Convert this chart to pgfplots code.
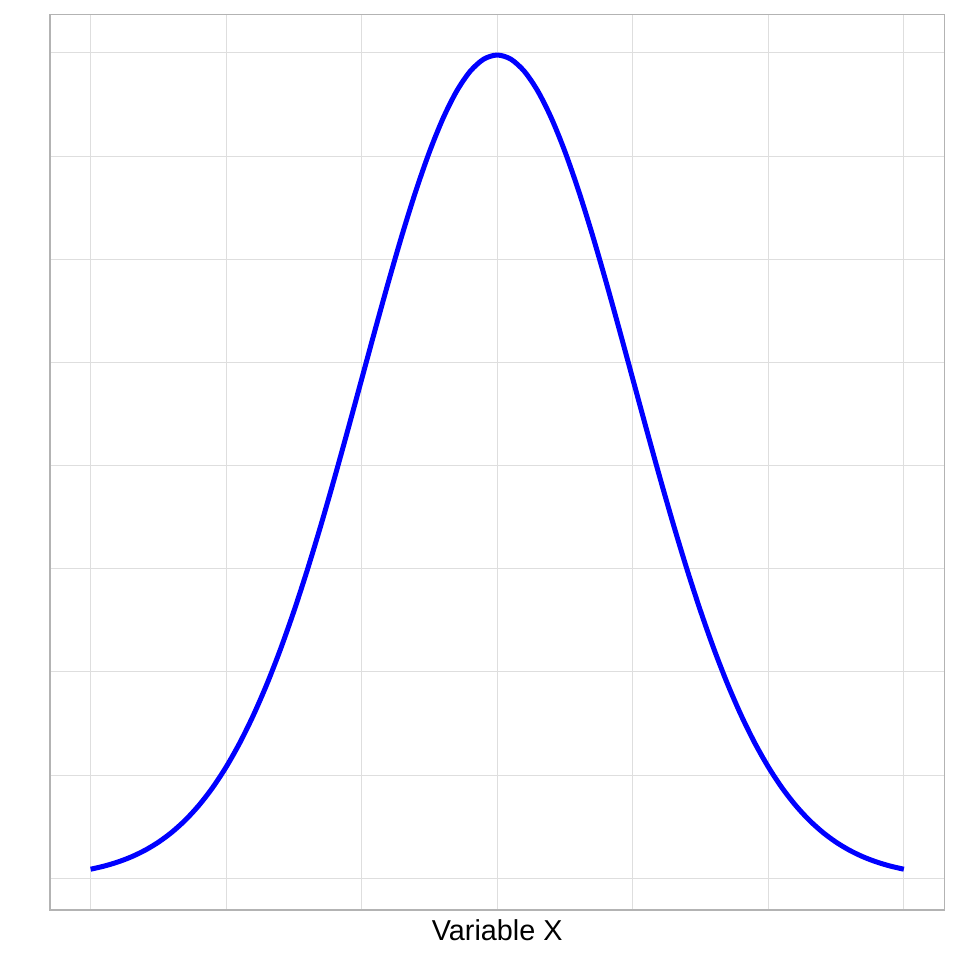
\documentclass[border=0pt]{standalone}
\usepackage{fontspec}
\setmainfont{Liberation Sans}
\usepackage{pgfplots}
\pgfplotsset{compat=1.18}
\definecolor{gridgray}{HTML}{DEDEDE}
\definecolor{bordergray}{HTML}{B3B3B3}
\begin{document}
\begin{tikzpicture}
\begin{axis}[
  scale only axis,
  width=447.5pt, height=448pt,
  xmin=-3.3, xmax=3.3,
  ymin=-0.01534, ymax=0.4186,
  xtick={-3,-2,-1,0,1,2,3},
  ytick={0,0.05,0.1,0.15,0.2,0.25,0.3,0.35,0.4},
  xticklabels={}, yticklabels={},
  major tick length=0pt,
  grid=major,
  major grid style={gridgray, line width=0.5pt},
  axis line style={bordergray, line width=0.8pt},
  xlabel={\fontsize{14.4}{17}\selectfont Variable X},
  xlabel style={at={(axis description cs:0.5,0)}, anchor=base, yshift=-15pt},
  clip=true,
]
\addplot[blue, line width=2.5pt, smooth] coordinates {
(-3.0,0.004432)(-2.9,0.005953)(-2.8,0.007915)(-2.7,0.010421)(-2.6,0.013583)
(-2.5,0.017528)(-2.4,0.022395)(-2.3,0.028327)(-2.2,0.035475)(-2.1,0.043984)
(-2.0,0.053991)(-1.9,0.065616)(-1.8,0.078950)(-1.7,0.094049)(-1.6,0.110921)
(-1.5,0.129518)(-1.4,0.149727)(-1.3,0.171369)(-1.2,0.194186)(-1.1,0.217852)
(-1.0,0.241971)(-0.9,0.266085)(-0.8,0.289692)(-0.7,0.312254)(-0.6,0.333225)
(-0.5,0.352065)(-0.4,0.368270)(-0.3,0.381388)(-0.2,0.391043)(-0.1,0.396953)
(0.0,0.398942)
(0.1,0.396953)(0.2,0.391043)(0.3,0.381388)(0.4,0.368270)(0.5,0.352065)
(0.6,0.333225)(0.7,0.312254)(0.8,0.289692)(0.9,0.266085)(1.0,0.241971)
(1.1,0.217852)(1.2,0.194186)(1.3,0.171369)(1.4,0.149727)(1.5,0.129518)
(1.6,0.110921)(1.7,0.094049)(1.8,0.078950)(1.9,0.065616)(2.0,0.053991)
(2.1,0.043984)(2.2,0.035475)(2.3,0.028327)(2.4,0.022395)(2.5,0.017528)
(2.6,0.013583)(2.7,0.010421)(2.8,0.007915)(2.9,0.005953)(3.0,0.004432)
};
\end{axis}
\pgfresetboundingbox
\path[use as bounding box] ([shift={(-25pt,-25pt)}]current axis.south west) rectangle ([shift={(7.5pt,7.25pt)}]current axis.north east);
\end{tikzpicture}
\end{document}
